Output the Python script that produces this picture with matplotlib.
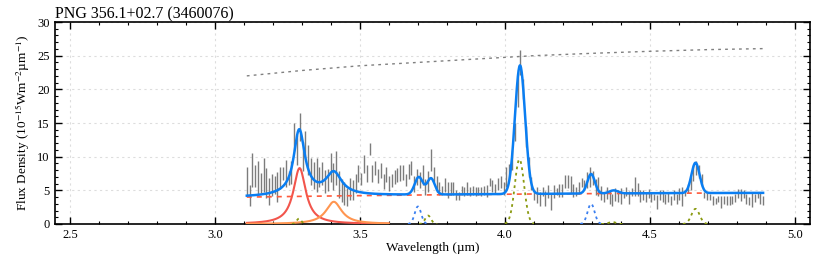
import numpy as np
import matplotlib
matplotlib.use("Agg")
import matplotlib.pyplot as plt
from matplotlib.ticker import MultipleLocator

plt.rcParams["font.family"] = ["Liberation Serif", "DejaVu Serif"]
plt.rcParams["mathtext.fontset"] = "stix"

title = "PNG 356.1+02.7 (3460076)"

# observed spectrum (186 bins from 3.11 to 4.89 um)
wl_start, wl_end = 3.11, 4.89
flux = [
    6.4, 4.2, 8.0, 7.1, 6.8, 6.1, 7.3, 6.1, 4.8, 5.8, 5.8, 5.5, 6.8, 7.5, 7.5,
    6.8, 7.6, 12.9, 11.0, 14.4, 10.0, 11.8, 9.5, 7.8, 7.2, 7.3, 7.0, 7.5, 6.3, 6.5,
    8.4, 7.0, 8.3, 5.8, 5.0, 4.5, 4.0, 5.2, 5.0, 6.0, 7.5, 6.7, 8.9, 7.5, 11.1,
    7.5, 8.3, 7.1, 8.0, 6.3, 7.3, 6.0, 6.5, 7.0, 7.3, 7.6, 7.6, 6.5, 7.8, 8.3,
    6.0, 7.0, 6.5, 7.3, 5.5, 6.3, 9.5, 7.4, 6.0, 5.3, 5.0, 5.8, 5.0, 5.3, 5.3,
    4.3, 4.2, 5.0, 4.8, 5.3, 4.8, 5.0, 4.8, 4.9, 4.8, 5.0, 4.9, 6.2, 5.7, 5.3,
    6.0, 6.2, 5.3,
    7.0, 7.8, 9.5, 13.7, 19.9, 24.0, 20.0, 13.0, 8.5, 6.0, 4.3, 4.3, 3.7, 4.8,
    3.8, 4.8, 3.3, 4.8, 4.8, 5.0, 5.0, 6.3, 6.3, 5.9, 5.0, 4.8, 5.4, 6.2, 5.8,
    6.5, 7.0, 6.8, 5.5, 5.6, 4.6, 4.0, 4.6, 3.9, 3.5, 4.4, 4.1, 4.1, 4.3, 4.8,
    3.9, 4.7, 5.6, 5.1, 4.1, 4.3, 4.0, 4.5, 4.0, 4.0, 3.3, 4.3, 4.1, 3.7, 4.0,
    3.5, 4.3, 3.7, 4.4, 4.1,
    4.6, 5.3, 6.0, 7.6, 8.3, 7.8, 6.6, 4.3, 4.2, 4.0, 3.5, 3.4, 3.7, 3.3, 3.5,
    3.5, 3.5, 3.5, 3.8, 4.5, 4.3, 4.4, 3.7, 3.4, 3.6, 3.8, 4.3, 3.9, 3.5,
]
flux_err = [
    2.1, 1.6, 2.5, 1.6, 2.5, 1.5, 2.5, 2.2, 2.0, 1.6, 1.4, 2.2, 1.6, 1.0, 2.0,
    1.0, 1.7, 2.1, 2.2, 2.1, 2.2, 2.0, 2.2, 2.0, 2.0, 2.5, 1.5, 1.7, 1.7, 1.6,
    2.1, 2.0, 2.5, 2.0, 1.7, 1.7, 1.4, 1.7, 1.5, 1.4, 1.2, 0.9, 1.3, 1.2, 0.9,
    1.2, 1.0, 1.0, 1.1, 1.1, 1.1, 1.1, 1.0, 1.0, 1.0, 1.2, 1.1, 0.9, 1.1, 1.0,
    1.2, 1.2, 1.2, 1.5, 1.2, 1.5, 1.7, 1.1, 1.2, 1.0, 0.7, 1.0, 1.2, 1.0, 1.0,
    0.7, 0.6, 0.7, 0.7, 1.0, 0.7, 0.7, 0.7, 0.6, 0.7, 0.7, 0.9, 0.6, 0.9, 0.7,
    0.9, 0.9, 1.0,
    1.5, 1.1, 1.5, 1.3, 2.5, 1.8, 1.5, 1.5, 1.5, 1.0, 0.7, 1.2, 1.1, 0.7,
    1.1, 1.0, 1.2, 1.0, 0.5, 1.0, 1.0, 1.0, 1.0, 1.3, 1.0, 0.7, 0.9, 0.7, 0.7,
    1.2, 1.5, 1.0, 1.2, 1.4, 1.1, 0.7, 0.9, 1.0, 0.9, 1.0, 0.9, 1.2, 0.5, 0.7,
    1.0, 0.6, 1.4, 1.0, 0.9, 0.7, 0.7, 0.7, 0.7, 0.5, 1.0, 0.7, 0.9, 0.7, 0.7,
    0.7, 0.7, 0.7, 0.9, 1.4,
    0.5, 0.7, 1.0, 1.2, 1.0, 1.0, 0.9, 0.5, 0.6, 0.5, 0.7, 0.5, 0.5, 0.9, 0.6,
    0.7, 0.7, 0.6, 0.6, 0.7, 0.9, 0.6, 0.7, 0.6, 1.1, 0.6, 0.5, 0.9, 0.7,
]
wl = np.linspace(wl_start, wl_end, len(flux))

# upper reference curve (gray dotted)
ref_wl = [3.11, 3.3, 3.5, 3.7, 3.9, 4.1, 4.3, 4.5, 4.7, 4.89]
ref_flux = [22.0, 22.8, 23.5, 24.0, 24.5, 25.0, 25.35, 25.65, 25.9, 26.05]

# continuum: quadratic in (wl - 3.11)
cont_coef = [4.0, 0.608, -0.146]

# broad features (lorentzian): center, peak, hwhm, colour
drude = [(3.292, 8.3, 0.026, "#f2554c"), (3.410, 3.3, 0.033, "#ff9550")]
# extra line terms in the total fit: center, peak, sigma
fit_lines = [(3.288, 1.5, 0.012), (3.703, 2.6, 0.014), (3.745, 2.4, 0.013),
             (4.052, 19.1, 0.0175), (4.297, 2.9, 0.013), (4.375, 0.45, 0.015),
             (4.657, 4.5, 0.014)]
# individual line components shown dotted: center, peak, sigma, colour
comp_lines = [(3.290, 0.8, 0.008, "#8a9a10"), (3.700, 2.6, 0.011, "#3a7ff0"),
              (3.735, 1.25, 0.010, "#8a9a10"), (4.050, 9.6, 0.016, "#8a9a10"),
              (4.297, 3.0, 0.012, "#3a7ff0"), (4.370, 0.3, 0.012, "#8a9a10"),
              (4.657, 2.25, 0.014, "#8a9a10")]


def lorentz(x, c, a, g):
    return a * g**2 / ((x - c) ** 2 + g**2)


def gauss(x, c, a, s):
    return a * np.exp(-0.5 * ((x - c) / s) ** 2)


x = np.linspace(wl_start, wl_end, 1500)
dx = x - wl_start
cont = cont_coef[0] + cont_coef[1] * dx + cont_coef[2] * dx**2
total = cont.copy()
for c, a, g, col in drude:
    total += lorentz(x, c, a, g)
for c, a, s in fit_lines:
    total += gauss(x, c, a, s)

fig = plt.figure(figsize=(8.3, 2.56), dpi=100)
ax = fig.add_axes([0.066, 0.125, 0.91, 0.789])

ax.errorbar(wl, flux, yerr=flux_err, fmt="none", ecolor="#6e6e6e",
            elinewidth=1.0, alpha=0.9, zorder=2)
ax.plot(ref_wl, ref_flux, ls=(0, (2, 3)), color="gray", lw=1.0)

xs = x[x <= 3.6]
for c, a, g, col in drude:
    ax.plot(xs, lorentz(xs, c, a, g), color=col, lw=1.5, zorder=3)

for c, a, s, col in comp_lines:
    m = (x > c - 3.2 * s) & (x < c + 3.2 * s)
    ax.plot(x[m], gauss(x[m], c, a, s), color=col, ls=(0, (1.5, 2)),
            lw=1.3, zorder=3)

ax.plot(x, cont, color="#ff5a3c", ls=(0, (3, 3)), lw=1.2, zorder=3)
ax.plot(x, total, color="#0a7ef2", lw=1.8, zorder=4)

ax.set_xlim(2.448, 5.052)
ax.set_ylim(0, 30)
ax.xaxis.set_major_locator(MultipleLocator(0.5))
ax.xaxis.set_minor_locator(MultipleLocator(0.1))
ax.yaxis.set_major_locator(MultipleLocator(5))
ax.yaxis.set_minor_locator(MultipleLocator(1))
ax.tick_params(which="both", direction="in", top=True, right=True,
               labelsize=9)
ax.tick_params(which="major", length=5, width=1)
ax.tick_params(which="minor", length=2.5, width=0.8)
ax.xaxis.set_major_formatter(matplotlib.ticker.FormatStrFormatter("%.1f"))
ax.grid(True, which="major", ls=(0, (2, 3)), color="#dddddd", lw=0.8)
for sp in ax.spines.values():
    sp.set_linewidth(1.2)

ax.set_xlabel("Wavelength (µm)", fontsize=9.5, labelpad=1)
ax.set_ylabel("Flux Density (10$^{-15}$Wm$^{-2}$µm$^{-1}$)", fontsize=9.5,
              labelpad=4)
ax.set_title(title, loc="left", fontsize=11.5, pad=2)

fig.savefig("out.png", dpi=100)
